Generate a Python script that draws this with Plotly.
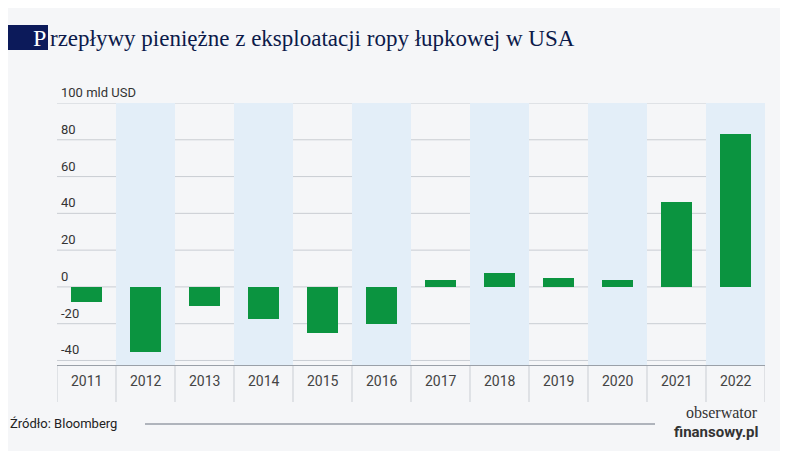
import plotly.graph_objects as go

years = ["2011","2012","2013","2014","2015","2016","2017","2018","2019","2020","2021","2022"]
values = [-8, -35.5, -10.5, -17.5, -25, -20, 4, 7.5, 5, 4, 46, 83]
ytick_vals = [-40, -20, 0, 20, 40, 60, 80, 100]
ytick_labels = ["-40", "-20", "0", "20", "40", "60", "80", "100 mld USD"]

BG = "#f5f6f8"
NARROW = "Liberation Sans Narrow, Roboto"
PW, PH = 708, 263
fig = go.Figure()
fig.add_trace(go.Bar(x=list(range(len(years))), y=values, marker_color="#0b9440",
                     width=0.52, marker_line_width=0))

def px(x):
    return (x - 57) / PW
def py(y):
    return (366 - y) / PH

shapes = []
for i in range(len(years)):
    if i % 2 == 1:
        shapes.append(dict(type="rect", xref="x", yref="y", x0=i-0.5, x1=i+0.5, y0=-43, y1=100,
                           fillcolor="#e3eef8", line_width=0, layer="below"))
for v in ytick_vals:
    shapes.append(dict(type="line", xref="paper", yref="y", x0=0, x1=1, y0=v, y1=v,
                       line=dict(color="#c9cdd3", width=1), layer="below"))
shapes.append(dict(type="line", xref="paper", yref="y", x0=0, x1=1, y0=-43, y1=-43,
                   line=dict(color="#9aa0a8", width=2)))
for i in range(len(years)+1):
    shapes.append(dict(type="line", xref="x", yref="paper", x0=i-0.5, x1=i-0.5, y0=0, y1=py(402),
                       line=dict(color="#c9cdd3", width=1)))
shapes.append(dict(type="rect", xref="paper", yref="paper", x0=px(-10), x1=px(48),
                   y0=py(50), y1=py(25), fillcolor="#0c1a5a", line_width=0))
shapes.append(dict(type="line", xref="paper", yref="paper", x0=px(145), x1=px(655),
                   y0=py(424), y1=py(424), line=dict(color="#6b7280", width=1)))

ann = []
for v, t in zip(ytick_vals, ytick_labels):
    ann.append(dict(x=px(59), xref="paper", y=v, yref="y", text=t, showarrow=False,
                    xanchor="left", yanchor="bottom", yshift=1,
                    font=dict(family=NARROW, size=13, color="#333")))
for i, y in enumerate(years):
    ann.append(dict(x=i, xref="x", y=py(381), yref="paper", text=y, showarrow=False,
                    yanchor="middle", font=dict(family=NARROW, size=14, color="#444")))
ann.append(dict(x=px(48), xref="paper", y=py(38), yref="paper", text="P", showarrow=False,
                xanchor="right", yanchor="middle", font=dict(family="Liberation Serif", size=24, color="white")))
ann.append(dict(x=px(48), xref="paper", y=py(38), yref="paper", text="rzepływy pieniężne z eksploatacji ropy łupkowej w USA",
                showarrow=False, xanchor="left", yanchor="middle",
                font=dict(family="Liberation Serif", size=23, color="#0c1a4a")))
ann.append(dict(x=px(8), xref="paper", y=py(424), yref="paper", text="Źródło: Bloomberg",
                showarrow=False, xanchor="left", yanchor="middle",
                font=dict(family=NARROW, size=13, color="#222")))
ann.append(dict(x=px(760), xref="paper", y=py(412), yref="paper",
                text="obserwator", showarrow=False, xanchor="right", yanchor="middle",
                font=dict(family="Liberation Serif", size=16, color="#333")))
ann.append(dict(x=px(760), xref="paper", y=py(432), yref="paper",
                text="<b>finansowy.pl</b>", showarrow=False, xanchor="right", yanchor="middle",
                font=dict(family=NARROW, size=15, color="#333")))

fig.update_layout(width=780, height=443, margin=dict(l=49, r=23, t=95, b=85),
                  paper_bgcolor=BG, plot_bgcolor=BG, showlegend=False, bargap=0,
                  shapes=shapes, annotations=ann,
                  xaxis=dict(range=[-0.5, 11.5], visible=False),
                  yaxis=dict(range=[-43, 100], visible=False))
fig.write_html("out.html")
